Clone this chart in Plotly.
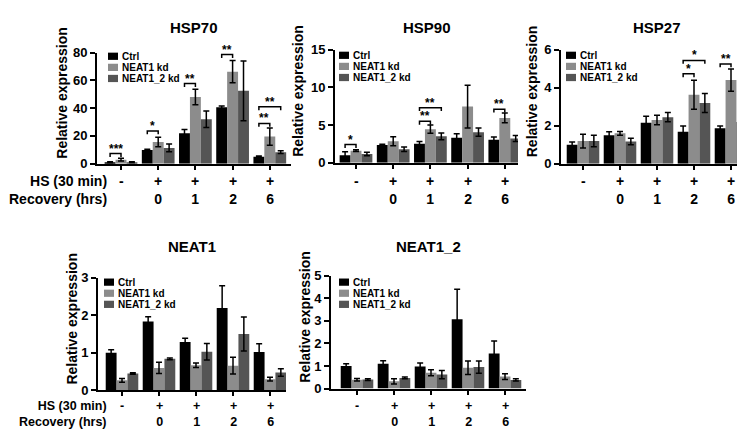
import plotly.graph_objects as go

# ---------------- data ----------------
hs_labels = ["-", "+", "+", "+", "+"]
recovery_labels = ["", "0", "1", "2", "6"]
series_names = ["Ctrl", "NEAT1 kd", "NEAT1_2 kd"]
panel_titles = ["HSP70", "HSP90", "HSP27", "NEAT1", "NEAT1_2"]

hsp70_ctrl = [1.0, 9.8, 22.0, 40.6, 5.0]
hsp70_ctrl_err = [0.3, 0.5, 2.7, 1.0, 0.6]
hsp70_kd = [2.9, 15.6, 48.0, 66.3, 19.5]
hsp70_kd_err = [1.0, 3.5, 5.6, 8.0, 6.2]
hsp70_kd2 = [1.0, 11.3, 32.0, 52.5, 8.3]
hsp70_kd2_err = [0.3, 2.8, 6.0, 21.5, 1.0]

hsp90_ctrl = [1.0, 2.35, 2.5, 3.3, 3.05]
hsp90_ctrl_err = [0.45, 0.1, 0.3, 0.55, 0.35]
hsp90_kd = [1.6, 2.85, 4.45, 7.45, 5.95]
hsp90_kd_err = [0.12, 0.6, 0.55, 2.85, 0.65]
hsp90_kd2 = [1.15, 1.8, 3.5, 4.05, 3.2]
hsp90_kd2_err = [0.22, 0.3, 0.45, 0.55, 0.4]

hsp27_ctrl = [1.0, 1.5, 2.15, 1.68, 1.86]
hsp27_ctrl_err = [0.14, 0.18, 0.35, 0.3, 0.13]
hsp27_kd = [1.19, 1.6, 2.3, 3.63, 4.4]
hsp27_kd_err = [0.36, 0.1, 0.25, 0.76, 0.58]
hsp27_kd2 = [1.19, 1.17, 2.45, 3.2, 2.19]
hsp27_kd2_err = [0.3, 0.17, 0.24, 0.5, 0.36]

neat1_ctrl = [1.0, 1.83, 1.29, 2.19, 1.02]
neat1_ctrl_err = [0.08, 0.13, 0.1, 0.59, 0.22]
neat1_kd = [0.27, 0.6, 0.67, 0.66, 0.3]
neat1_kd_err = [0.05, 0.15, 0.06, 0.22, 0.05]
neat1_kd2 = [0.45, 0.84, 1.03, 1.5, 0.48]
neat1_kd2_err = [0.02, 0.02, 0.22, 0.45, 0.1]

neat12_ctrl = [1.0, 1.1, 0.98, 3.07, 1.55]
neat12_ctrl_err = [0.1, 0.13, 0.15, 1.33, 0.56]
neat12_kd = [0.39, 0.32, 0.7, 0.92, 0.53]
neat12_kd_err = [0.06, 0.12, 0.13, 0.3, 0.13]
neat12_kd2 = [0.4, 0.47, 0.62, 0.95, 0.38]
neat12_kd2_err = [0.04, 0.04, 0.18, 0.27, 0.05]

# significance brackets: (group, series a, series b, level, label)
hsp70_sig = [(0, 0, 1, 7.3, "***"), (1, 0, 1, 23.6, "*"), (2, 0, 1, 57.7, "**"),
             (3, 0, 1, 78.6, "**"), (4, 0, 1, 29.0, "**"), (4, 0, 2, 41.0, "**")]
hsp90_sig = [(0, 0, 1, 2.4, "*"), (2, 0, 1, 5.5, "**"), (2, 0, 2, 7.3, "**"),
             (4, 0, 1, 7.1, "**")]
hsp27_sig = [(3, 0, 1, 4.73, "*"), (3, 0, 2, 5.44, "*"), (4, 0, 1, 5.25, "**")]
neat1_sig = []
neat12_sig = []

y_ticks = [[0, 20, 40, 60, 80], [0, 5, 10, 15], [0, 2, 4, 6], [0, 1, 2, 3], [0, 1, 2, 3, 4, 5]]

panel_values = [
    [(hsp70_ctrl, hsp70_ctrl_err), (hsp70_kd, hsp70_kd_err), (hsp70_kd2, hsp70_kd2_err)],
    [(hsp90_ctrl, hsp90_ctrl_err), (hsp90_kd, hsp90_kd_err), (hsp90_kd2, hsp90_kd2_err)],
    [(hsp27_ctrl, hsp27_ctrl_err), (hsp27_kd, hsp27_kd_err), (hsp27_kd2, hsp27_kd2_err)],
    [(neat1_ctrl, neat1_ctrl_err), (neat1_kd, neat1_kd_err), (neat1_kd2, neat1_kd2_err)],
    [(neat12_ctrl, neat12_ctrl_err), (neat12_kd, neat12_kd_err), (neat12_kd2, neat12_kd2_err)],
]
panel_sig = [hsp70_sig, hsp90_sig, hsp27_sig, neat1_sig, neat12_sig]

# ---------------- style / layout geometry (pixels) ----------------
W, H = 745, 432
colors = ["#000000", "#8c8c8c", "#555555"]
FONT = "Liberation Sans, Arial, Helvetica, sans-serif"
BARGAP = 0.12
geo = [
    dict(x0=89, x1=283, first=113, sp=37.2, yt=39, yb=154, lx=100, ly=39, labx=54, row=0),
    dict(x0=327, x1=510, first=348, sp=37.2, yt=36, yb=153, lx=331, ly=38, labx=290, row=0),
    dict(x0=553, x1=744, first=575, sp=37.0, yt=36, yb=154, lx=558, ly=38, labx=524, row=0),
    dict(x0=90, x1=278, first=114, sp=37.0, yt=272, yb=389, lx=96, ly=273, labx=64, row=1),
    dict(x0=323, x1=518, first=349, sp=37.0, yt=270, yb=387, lx=331, ly=273, labx=297, row=1),
]
row_label_mid = [181, 413.5]   # centre of the two-line HS / Recovery block
row_label_size = [14, 12.5]
title_y = [13, 240]


def px(x):
    return x / W


def py(y):
    return 1 - y / H


fig = go.Figure()
layout = dict(
    width=W, height=H, margin=dict(l=0, r=0, t=0, b=0),
    paper_bgcolor="white", plot_bgcolor="white",
    barmode="group", bargap=BARGAP, bargroupgap=0,
    showlegend=False,
    font=dict(family=FONT, color="black", size=13, weight="bold"),
)
shapes = []
annotations = []

bw = (1 - BARGAP) / 3
offsets = [-bw, 0, bw]
LBL = dict(size=14, family=FONT, weight="bold")

for p in range(5):
    g = geo[p]
    sfx = "" if p == 0 else str(p + 1)
    xa, ya = "x" + sfx, "y" + sfx
    xs = list(range(5))
    for s in range(3):
        vals, errs = panel_values[p][s]
        fig.add_trace(go.Bar(
            x=xs, y=vals, name=series_names[s], xaxis=xa, yaxis=ya,
            marker=dict(color=colors[s], line=dict(width=0)),
            error_y=dict(type="data", array=errs, color="black", thickness=1.5, width=3),
        ))
    ymax = y_ticks[p][-1]
    r0 = (g["x0"] - g["first"]) / g["sp"]
    r1 = (g["x1"] - g["first"]) / g["sp"]
    layout["xaxis" + sfx] = dict(
        domain=[px(g["x0"]), px(g["x1"])], range=[r0, r1], anchor=ya,
        showline=True, linewidth=2, linecolor="black", showgrid=False, zeroline=False,
        tickmode="array", tickvals=xs, ticks="outside", ticklen=4, tickwidth=2,
        tickcolor="black", showticklabels=False, fixedrange=True,
    )
    layout["yaxis" + sfx] = dict(
        domain=[py(g["yb"]), py(g["yt"])], range=[0, ymax], anchor=xa,
        showline=True, linewidth=2, linecolor="black", showgrid=False, zeroline=False,
        tickmode="array", tickvals=y_ticks[p], ticks="outside", ticklen=5, tickwidth=2,
        tickcolor="black", tickfont=dict(size=13, family=FONT, weight="bold"),
        fixedrange=True,
    )
    # title
    annotations.append(dict(
        text=panel_titles[p], xref="paper", yref="paper",
        x=px((g["x0"] + g["x1"]) / 2), y=py(title_y[g["row"]]),
        xanchor="center", yanchor="middle", showarrow=False,
        font=dict(size=15, family=FONT, weight="bold"),
    ))
    # y label
    annotations.append(dict(
        text="Relative expression", xref="paper", yref="paper", textangle=-90,
        x=px(g["labx"]), y=py((g["yt"] + g["yb"]) / 2 - 16),
        xanchor="center", yanchor="middle", showarrow=False, font=LBL,
    ))
    # HS / recovery labels under each group (two lines in one text)
    mid = row_label_mid[g["row"]]
    fsz = row_label_size[g["row"]]
    rf = dict(size=fsz, family=FONT, weight="bold")
    for i in range(5):
        if recovery_labels[i]:
            annotations.append(dict(text=hs_labels[i] + "<br>" + recovery_labels[i],
                                    xref=xa, yref="paper", x=i, y=py(mid), borderpad=0,
                                    xanchor="center", yanchor="middle", showarrow=False, font=rf))
        else:
            annotations.append(dict(text=hs_labels[i], xref=xa, yref="paper", x=i,
                                    y=py(mid - 0.65 * fsz), borderpad=0,
                                    xanchor="center", yanchor="middle", showarrow=False, font=rf))
    # legend (manual, compact)
    for s in range(3):
        top = g["ly"] + s * 11.5
        shapes.append(dict(type="rect", xref="paper", yref="paper",
                           x0=px(g["lx"]), x1=px(g["lx"] + 10), y0=py(top + 7.5), y1=py(top),
                           fillcolor=colors[s], line=dict(width=0)))
        annotations.append(dict(text=series_names[s], xref="paper", yref="paper",
                                x=px(g["lx"] + 12), y=py(top + 3.8), xanchor="left", yanchor="middle",
                                showarrow=False, font=dict(size=10, family=FONT, weight="bold")))
    # significance brackets
    plot_h = g["yb"] - g["yt"]
    drop = 3.5 * ymax / plot_h
    for (grp, a, b, lvl, lab) in panel_sig[p]:
        xa0 = grp + offsets[a]
        xb0 = grp + offsets[b]
        shapes.append(dict(type="path", xref=xa, yref=ya,
                           path=f"M {xa0},{lvl - drop} L {xa0},{lvl} L {xb0},{lvl} L {xb0},{lvl - drop}",
                           line=dict(color="black", width=1.5)))
        annotations.append(dict(text=lab, xref=xa, yref=ya, x=(xa0 + xb0) / 2, y=lvl,
                                xanchor="center", yanchor="bottom", yshift=-4, showarrow=False,
                                font=dict(size=12, family=FONT, weight="bold")))

# row labels
for mid, fsz in zip(row_label_mid, row_label_size):
    annotations.append(dict(text="HS (30 min)<br>Recovery (hrs)", xref="paper", yref="paper",
                            x=px(100), y=py(mid), xanchor="right", yanchor="middle", align="right",
                            borderpad=0, showarrow=False, font=dict(size=fsz, family=FONT, weight="bold")))

layout["shapes"] = shapes
layout["annotations"] = annotations
fig.update_layout(**layout)
fig.write_html("out.html")
